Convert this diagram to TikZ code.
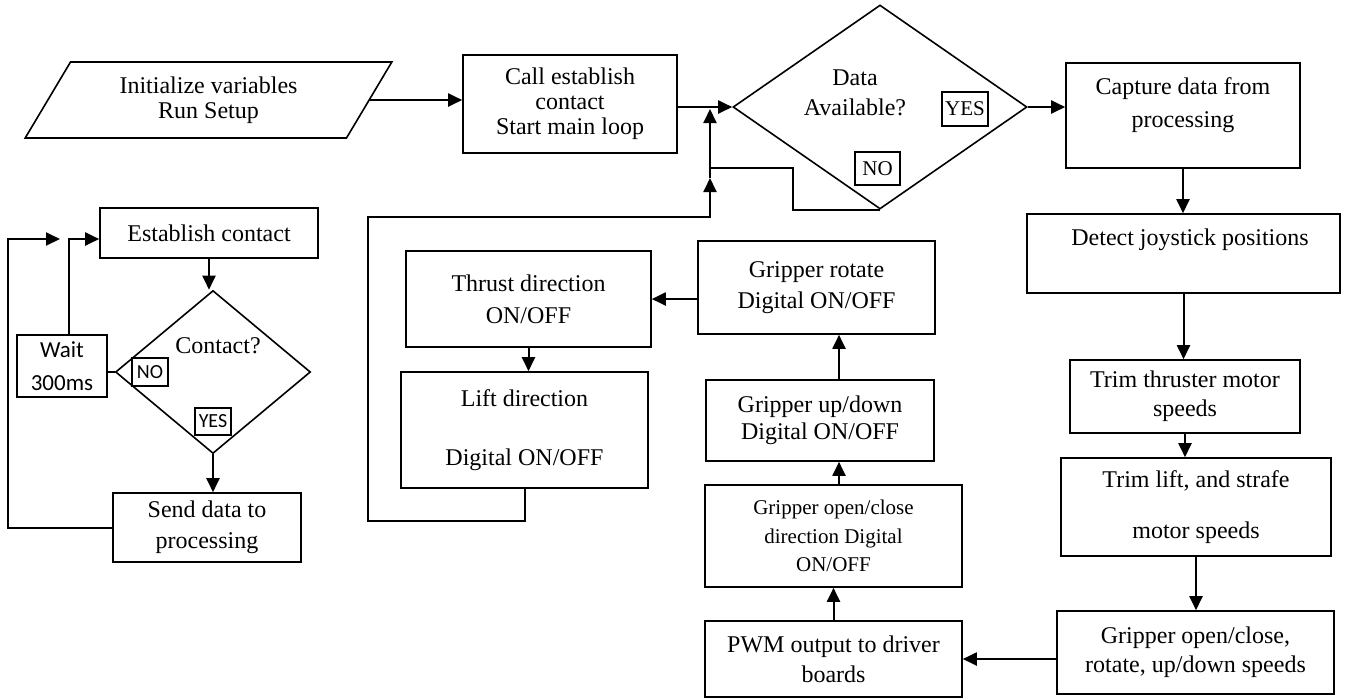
\documentclass[tikz,border=0pt]{standalone}
\usepackage{fontspec}
\setmainfont{Liberation Serif}
\newfontfamily\calibri{Carlito}
\usetikzlibrary{shapes.geometric,arrows.meta}

\begin{document}
\begin{tikzpicture}[x=0.5pt,y=-0.5pt,line width=0.8pt,
  box/.style={draw,inner sep=0pt,align=center,font=\fontsize{12}{12.5}\selectfont},
  txt/.style={inner sep=0pt,align=center,font=\fontsize{12}{12.5}\selectfont},
  cond/.style={diamond,draw,inner sep=0pt},
  flag/.style={draw,inner sep=0pt,font=\fontsize{10.5}{12}\selectfont},
  cflag/.style={draw,inner sep=0pt,font=\calibri\fontsize{10}{12}\selectfont},
  arrow/.style={line width=1pt,-{Triangle[length=7pt,width=6.5pt]}}]
\useasboundingbox (0,0) rectangle (1355,698);

% Start of the program.
\node[trapezium,draw,inner sep=0pt,trapezium left angle=58,
  trapezium right angle=122,trapezium stretches=true,
  minimum width=183.5pt,minimum height=38pt,align=center,
  font=\fontsize{12}{12.5}\selectfont]
  (init) at (208.5,100) {Initialize variables\\Run Setup};
\node[box,minimum width=107pt,minimum height=49pt]
  (call) at (570,104) {Call establish\\contact\\Start main loop};

% Main loop test.
\node[cond,minimum width=147pt,minimum height=102pt] (avail) at (880,107) {};
\node[txt] (availT) at (855,93) {Data\\[2.5pt]Available?};
\node[flag,minimum width=23pt,minimum height=17pt] (availY) at (965,109) {YES};
\node[flag,minimum width=22.5pt,minimum height=16.5pt] (availN) at (877.5,168.5) {NO};

% Right column: reading the joysticks.
\node[box,minimum width=117pt,minimum height=52.5pt] (capture) at (1183,115.5) {};
\node[txt] (captureT) at (1183,105) {Capture data from\\[4pt]processing};
\node[box,minimum width=156.5pt,minimum height=39.5pt] (detect) at (1183.5,253.5) {};
\node[txt] (detectT) at (1190,240) {Detect joystick positions};
\node[box,minimum width=115pt,minimum height=36.5pt]
  (trimT) at (1185,396.5) {Trim thruster motor\\[2pt]speeds};
\node[box,minimum width=135pt,minimum height=49pt]
  (trimL) at (1196,507) {Trim lift, and strafe\\[13pt]motor speeds};
\node[box,minimum width=138.5pt,minimum height=41.5pt]
  (grip) at (1195.5,652.5) {Gripper open/close,\\[2pt]rotate, up/down speeds};

% Middle column: outputs.
\node[box,minimum width=128.5pt,minimum height=38pt]
  (pwm) at (833.5,659) {PWM output to driver\\[2.5pt]boards};
\node[box,minimum width=128.5pt,minimum height=51pt,
  font=\fontsize{10.5}{14.25}\selectfont]
  (open) at (833.5,536) {Gripper open/close\\direction Digital\\ON/OFF};
\node[box,minimum width=114pt,minimum height=40.5pt]
  (updown) at (820,420.5) {Gripper up/down\\[1pt]Digital ON/OFF};
\node[box,minimum width=118.5pt,minimum height=46.5pt]
  (rotate) at (816.5,287.5) {Gripper rotate\\[3pt]Digital ON/OFF};
\node[box,minimum width=122.5pt,minimum height=48pt]
  (thrust) at (528.5,299) {Thrust direction\\[3.5pt]ON/OFF};
\node[box,minimum width=123.5pt,minimum height=58pt]
  (lift) at (524.5,430) {Lift direction\\[17pt]Digital ON/OFF};

% Left part: handshake with processing.
\node[box,minimum width=109pt,minimum height=25pt] (est) at (209,233) {Establish contact};
\node[cond,minimum width=97.5pt,minimum height=81.5pt] (contact) at (213,372) {};
\node[txt] (contactT) at (218,346) {Contact?};
\node[cflag,minimum width=18pt,minimum height=14pt] (contactN) at (150,372) {NO};
\node[cflag,minimum width=18pt,minimum height=13.5pt] (contactY) at (213,421.5) {YES};
\node[box,minimum width=45pt,minimum height=31pt,
  font=\calibri\fontsize{11.5}{16.5}\selectfont]
  (wait) at (62,366) {Wait\\300ms};
\node[box,minimum width=94pt,minimum height=34.5pt]
  (send) at (207,527.5) {Send data to\\[3pt]processing};

% Junction points of the loops.
\coordinate (mainIn) at (710,109);
\coordinate (noJoin) at (710,168);
\coordinate (noTurn) at (793,168);
\coordinate (loopTop) at (710,217);
\coordinate (loopMid) at (710,178);
\coordinate (loopLeft) at (368,217);
\coordinate (gripX) at (839,0);
\coordinate (loopA) at (8,239);
\coordinate (loopTip) at (60,239);
\coordinate (loopJ) at (69,239);

% Top row connectors.
\draw[arrow] (init.east) -- (init.east -| call.west);
\draw[arrow] (call.east |- avail.west) -- (avail.west);
\draw[arrow] (avail.east) -- (avail.east -| capture.west);
\draw (avail.south) -| (noTurn) -- (noJoin);

% Right column connectors.
\draw[arrow] (capture.south) -- (capture.south |- detect.north);
\draw[arrow] (detect.south) -- (detect.south |- trimT.north);
\draw[arrow] (trimT.south) -- (trimT.south |- trimL.north);
\draw[arrow] (trimL.south) -- (trimL.south |- grip.north);
\draw[arrow] (grip.west |- pwm.east) -- (pwm.east);

% Middle column connectors.
\draw[arrow] (pwm.north) -- (open.south);
\draw[arrow] (open.north -| gripX) -- (updown.south -| gripX);
\draw[arrow] (updown.north -| gripX) -- (rotate.south -| gripX);
\draw[arrow] (rotate.west |- thrust.east) -- (thrust.east);
\draw[arrow] (thrust.south) -- (thrust.south |- lift.north);
\draw[arrow] (lift.south) -- (lift.south |- 0,521) -| (loopLeft) -- (loopTop) -- (loopMid);
\draw[arrow] (loopMid) -- (mainIn);

% Left part connectors.
\draw[arrow] (est.south) -- (est.south |- contact.north);
\draw[arrow] (contact.south) -- (contact.south |- send.north);
\draw (wait.east |- contact.west) -- (contact.west);
\draw[arrow] (send.west) -| (loopA) -- (loopTip);
\draw[arrow] (wait.north -| loopJ) -- (loopJ) -- (loopJ -| est.west);

\end{tikzpicture}
\end{document}
